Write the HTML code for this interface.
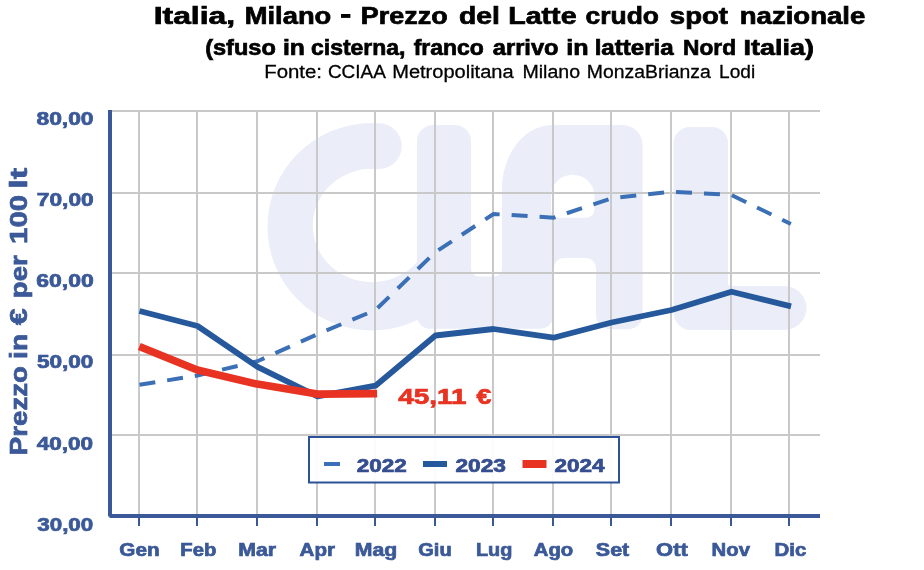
<!DOCTYPE html>
<html><head><meta charset="utf-8">
<style>
html,body{margin:0;padding:0;background:#fff;}
svg{display:block}
text{font-family:"Liberation Sans",sans-serif;}
.b{font-weight:bold}
</style></head><body>
<svg width="924" height="570" viewBox="0 0 924 570">
<rect width="924" height="570" fill="#fff"/>
<g fill="#ebeef9" stroke="none">
<clipPath id="cc"><path d="M255,110H372V226L441,275H471V345H255Z"/></clipPath>
<path clip-path="url(#cc)" fill-rule="evenodd" d="M267.5,226.7 a104.5,103.7 0 1 0 209,0 a104.5,103.7 0 1 0 -209,0 Z M312.8,225.5 a59.2,56.6 0 1 0 118.4,0 a59.2,56.6 0 1 0 -118.4,0 Z"/>
<path d="M371,123.3 H379 a22.8,22.8 0 0 1 0,45.6 H371 Z"/>
<path fill-rule="evenodd" d="M417,141 a16,16 0 0 1 16,-16 h22 a16,16 0 0 1 16,16 V268.5 a8,8 0 0 0 8,8 h15 a8,8 0 0 0 8,-8 V189 A50.5,64 0 0 1 552,125 H622.5 a20,20 0 0 1 20,20 V315.2 a14,14 0 0 1 -14,14 H610 a14,14 0 0 1 -14,-14 V268 a10,10 0 0 0 -10,-10 H563.8 a10,10 0 0 0 -10,10 V314.8 a14,14 0 0 1 -14,14 H430 a13,13 0 0 1 -13,-13 Z M551,196 a21.7,21.3 0 0 1 43.4,0 V209.7 a8,8 0 0 1 -8,8 H559 a8,8 0 0 1 -8,-8 Z"/>
<path d="M673.7,143 a16,16 0 0 1 16,-16 h22.3 a16,16 0 0 1 16,16 V283 a3,3 0 0 0 3,3 H784.5 a22,22 0 0 1 0,44 H690.7 a17,17 0 0 1 -17,-17 Z"/>
</g>
<g stroke="#c9c9c9" stroke-width="2" fill="none">
<path d="M112,111H820M112,193H820M112,273H820M112,355H820M112,435H820"/>
<path d="M139,112V514M197,112V514M257,112V514M317,112V514M375,112V514M435,112V514M493,112V514M553,112V514M611,112V514M671,112V514M731,112V514M789,112V514"/>
</g>
<g stroke="#3b5998" fill="none">
<path d="M110,110V516.5" stroke-width="4"/>
<path d="M109.5,516H820" stroke-width="4"/>
<path d="M139,518V526M197,518V526M257,518V526M317,518V526M375,518V526M435,518V526M493,518V526M553,518V526M611,518V526M671,518V526M731,518V526M789,518V526" stroke-width="2"/>
</g>
<polyline fill="none" stroke="#3b6fb6" stroke-width="4" stroke-dasharray="16 12" points="139.5,384.8 197.5,375.5 257.5,361.2 317.5,334.2 375.5,310 435.5,252 493.5,214 553.5,217.7 611.5,198.3 671.5,191.7 731.5,195 790.85,223.96"/>
<polyline fill="none" stroke="#26589c" stroke-width="5.8" stroke-linejoin="round" points="139.5,311 197.5,326 257.5,366.8 317.5,396.4 375.5,385.7 435.5,335.5 493.5,329 553.5,337.7 611.5,322.5 671.5,310 731.5,291.7 791.05,306.38"/>
<polyline fill="none" stroke="#e83323" stroke-width="7.6" stroke-linejoin="round" points="139.3,346.6 197.3,370 257.3,384.1 317.3,394.1 377.1,393.58"/>
<rect x="309" y="437" width="310" height="45.5" fill="#fff" fill-opacity="0.93" stroke="#2b5197" stroke-width="2"/>
<path d="M324,464H340" stroke="#3b6fb6" stroke-width="4"/>
<path d="M423,464H447" stroke="#26589c" stroke-width="6"/>
<path d="M522.5,464H546.5" stroke="#e83323" stroke-width="8"/>
<g opacity="0.999">
<rect x="341" y="14" width="9.4" height="3.9" fill="#000"/>
<text class="b" x="153.74" y="23.6" font-size="23.1" fill="#000" stroke="#000" stroke-width="0.7" textLength="81.26" lengthAdjust="spacingAndGlyphs">Italia,</text>
<text class="b" x="244.78" y="23.6" font-size="23.1" fill="#000" stroke="#000" stroke-width="0.7" textLength="86.52" lengthAdjust="spacingAndGlyphs">Milano</text>
<text class="b" x="360.88" y="23.6" font-size="23.1" fill="#000" stroke="#000" stroke-width="0.7" textLength="86.72" lengthAdjust="spacingAndGlyphs">Prezzo</text>
<text class="b" x="458.98" y="23.6" font-size="23.1" fill="#000" stroke="#000" stroke-width="0.7" textLength="40.83" lengthAdjust="spacingAndGlyphs">del</text>
<text class="b" x="508.2" y="23.6" font-size="23.1" fill="#000" stroke="#000" stroke-width="0.7" textLength="68.37" lengthAdjust="spacingAndGlyphs">Latte</text>
<text class="b" x="585.61" y="23.6" font-size="23.1" fill="#000" stroke="#000" stroke-width="0.7" textLength="73.38" lengthAdjust="spacingAndGlyphs">crudo</text>
<text class="b" x="669.88" y="23.6" font-size="23.1" fill="#000" stroke="#000" stroke-width="0.7" textLength="58.17" lengthAdjust="spacingAndGlyphs">spot</text>
<text class="b" x="739.79" y="23.6" font-size="23.1" fill="#000" stroke="#000" stroke-width="0.7" textLength="125.55" lengthAdjust="spacingAndGlyphs">nazionale</text>
<text class="b" x="205.19" y="55.3" font-size="21.4" fill="#000" stroke="#000" stroke-width="0.7" textLength="70.59" lengthAdjust="spacingAndGlyphs">(sfuso</text>
<text class="b" x="283.01" y="55.3" font-size="21.4" fill="#000" stroke="#000" stroke-width="0.7" textLength="21.95" lengthAdjust="spacingAndGlyphs">in</text>
<text class="b" x="311.09" y="55.3" font-size="21.4" fill="#000" stroke="#000" stroke-width="0.7" textLength="94.38" lengthAdjust="spacingAndGlyphs">cisterna,</text>
<text class="b" x="413.71" y="55.3" font-size="21.4" fill="#000" stroke="#000" stroke-width="0.7" textLength="70.19" lengthAdjust="spacingAndGlyphs">franco</text>
<text class="b" x="492.78" y="55.3" font-size="21.4" fill="#000" stroke="#000" stroke-width="0.7" textLength="65.83" lengthAdjust="spacingAndGlyphs">arrivo</text>
<text class="b" x="566.37" y="55.3" font-size="21.4" fill="#000" stroke="#000" stroke-width="0.7" textLength="22.32" lengthAdjust="spacingAndGlyphs">in</text>
<text class="b" x="594.66" y="55.3" font-size="21.4" fill="#000" stroke="#000" stroke-width="0.7" textLength="79.08" lengthAdjust="spacingAndGlyphs">latteria</text>
<text class="b" x="683.06" y="55.3" font-size="21.4" fill="#000" stroke="#000" stroke-width="0.7" textLength="52.98" lengthAdjust="spacingAndGlyphs">Nord</text>
<text class="b" x="743.56" y="55.3" font-size="21.4" fill="#000" stroke="#000" stroke-width="0.7" textLength="70.31" lengthAdjust="spacingAndGlyphs">Italia)</text>
<text x="264.22" y="77.7" font-size="18" fill="#000" stroke="#000" stroke-width="0.3" textLength="57.81" lengthAdjust="spacingAndGlyphs">Fonte:</text>
<text x="327.95" y="77.7" font-size="18" fill="#000" stroke="#000" stroke-width="0.3" textLength="57.92" lengthAdjust="spacingAndGlyphs">CCIAA</text>
<text x="392.19" y="77.7" font-size="18" fill="#000" stroke="#000" stroke-width="0.3" textLength="121.45" lengthAdjust="spacingAndGlyphs">Metropolitana</text>
<text x="522.51" y="77.7" font-size="18" fill="#000" stroke="#000" stroke-width="0.3" textLength="57.54" lengthAdjust="spacingAndGlyphs">Milano</text>
<text x="586.85" y="77.7" font-size="18" fill="#000" stroke="#000" stroke-width="0.3" textLength="123.96" lengthAdjust="spacingAndGlyphs">MonzaBrianza</text>
<text x="719.08" y="77.7" font-size="18" fill="#000" stroke="#000" stroke-width="0.3" textLength="36.11" lengthAdjust="spacingAndGlyphs">Lodi</text>
<text class="b" x="119.37" y="556.2" font-size="17.8" fill="#3b5998" stroke="#3b5998" stroke-width="0.7" textLength="40.27" lengthAdjust="spacingAndGlyphs">Gen</text>
<text class="b" x="180.33" y="556.2" font-size="17.8" fill="#3b5998" stroke="#3b5998" stroke-width="0.7" textLength="36.01" lengthAdjust="spacingAndGlyphs">Feb</text>
<text class="b" x="238.28" y="556.2" font-size="17.8" fill="#3b5998" stroke="#3b5998" stroke-width="0.7" textLength="37.91" lengthAdjust="spacingAndGlyphs">Mar</text>
<text class="b" x="299.61" y="556.2" font-size="17.8" fill="#3b5998" stroke="#3b5998" stroke-width="0.7" textLength="35.45" lengthAdjust="spacingAndGlyphs">Apr</text>
<text class="b" x="354.85" y="556.2" font-size="17.8" fill="#3b5998" stroke="#3b5998" stroke-width="0.7" textLength="42.49" lengthAdjust="spacingAndGlyphs">Mag</text>
<text class="b" x="418.29" y="556.2" font-size="17.8" fill="#3b5998" stroke="#3b5998" stroke-width="0.7" textLength="33.4" lengthAdjust="spacingAndGlyphs">Giu</text>
<text class="b" x="475.99" y="556.2" font-size="17.8" fill="#3b5998" stroke="#3b5998" stroke-width="0.7" textLength="36.38" lengthAdjust="spacingAndGlyphs">Lug</text>
<text class="b" x="533.81" y="556.2" font-size="17.8" fill="#3b5998" stroke="#3b5998" stroke-width="0.7" textLength="39.49" lengthAdjust="spacingAndGlyphs">Ago</text>
<text class="b" x="595.89" y="556.2" font-size="17.8" fill="#3b5998" stroke="#3b5998" stroke-width="0.7" textLength="33.34" lengthAdjust="spacingAndGlyphs">Set</text>
<text class="b" x="656.14" y="556.2" font-size="17.8" fill="#3b5998" stroke="#3b5998" stroke-width="0.7" textLength="31.59" lengthAdjust="spacingAndGlyphs">Ott</text>
<text class="b" x="711.63" y="556.2" font-size="17.8" fill="#3b5998" stroke="#3b5998" stroke-width="0.7" textLength="38.31" lengthAdjust="spacingAndGlyphs">Nov</text>
<text class="b" x="774.52" y="556.2" font-size="17.8" fill="#3b5998" stroke="#3b5998" stroke-width="0.7" textLength="31.74" lengthAdjust="spacingAndGlyphs">Dic</text>
<text class="b" x="36.49" y="124.6" font-size="17.5" fill="#3b5998" stroke="#3b5998" stroke-width="0.7" textLength="57.08" lengthAdjust="spacingAndGlyphs">80,00</text>
<text class="b" x="36.83" y="205.9" font-size="17.5" fill="#3b5998" stroke="#3b5998" stroke-width="0.7" textLength="56.8" lengthAdjust="spacingAndGlyphs">70,00</text>
<text class="b" x="36.28" y="287" font-size="17.5" fill="#3b5998" stroke="#3b5998" stroke-width="0.7" textLength="57.41" lengthAdjust="spacingAndGlyphs">60,00</text>
<text class="b" x="36.96" y="367.8" font-size="17.5" fill="#3b5998" stroke="#3b5998" stroke-width="0.7" textLength="56.48" lengthAdjust="spacingAndGlyphs">50,00</text>
<text class="b" x="36.79" y="449.5" font-size="17.5" fill="#3b5998" stroke="#3b5998" stroke-width="0.7" textLength="56.29" lengthAdjust="spacingAndGlyphs">40,00</text>
<text class="b" x="37.27" y="530.5" font-size="17.5" fill="#3b5998" stroke="#3b5998" stroke-width="0.7" textLength="56" lengthAdjust="spacingAndGlyphs">30,00</text>
<text class="b" x="356.79" y="472" font-size="18" fill="#354e90" stroke="#354e90" stroke-width="0.7" textLength="49.98" lengthAdjust="spacingAndGlyphs">2022</text>
<text class="b" x="455.42" y="472" font-size="18" fill="#354e90" stroke="#354e90" stroke-width="0.7" textLength="50.54" lengthAdjust="spacingAndGlyphs">2023</text>
<text class="b" x="554.42" y="472" font-size="18" fill="#354e90" stroke="#354e90" stroke-width="0.7" textLength="50.05" lengthAdjust="spacingAndGlyphs">2024</text>
<text class="b" x="398.3" y="403.5" font-size="22.6" fill="#e83323" stroke="#e83323" stroke-width="0.7" textLength="68.33" lengthAdjust="spacingAndGlyphs">45,11</text>
<text class="b" x="476.51" y="403.5" font-size="22.6" fill="#e83323" stroke="#e83323" stroke-width="0.7" textLength="14.74" lengthAdjust="spacingAndGlyphs">€</text>
<text class="b" transform="translate(27.4,455.13) rotate(-90)" font-size="24.4" fill="#3b5998" stroke="#3b5998" stroke-width="0.7" textLength="89.1" lengthAdjust="spacingAndGlyphs">Prezzo</text>
<text class="b" transform="translate(27.4,358.89) rotate(-90)" font-size="24.4" fill="#3b5998" stroke="#3b5998" stroke-width="0.7" textLength="24.92" lengthAdjust="spacingAndGlyphs">in</text>
<text class="b" transform="translate(27.4,325.1) rotate(-90)" font-size="24.4" fill="#3b5998" stroke="#3b5998" stroke-width="0.7" textLength="16.55" lengthAdjust="spacingAndGlyphs">€</text>
<text class="b" transform="translate(27.4,298.16) rotate(-90)" font-size="24.4" fill="#3b5998" stroke="#3b5998" stroke-width="0.7" textLength="42.79" lengthAdjust="spacingAndGlyphs">per</text>
<text class="b" transform="translate(27.4,244.01) rotate(-90)" font-size="24.4" fill="#3b5998" stroke="#3b5998" stroke-width="0.7" textLength="49.21" lengthAdjust="spacingAndGlyphs">100</text>
<text class="b" transform="translate(27.4,188.64) rotate(-90)" font-size="24.4" fill="#3b5998" stroke="#3b5998" stroke-width="0.7" textLength="20.89" lengthAdjust="spacingAndGlyphs">lt</text>
</g>
</svg>
</body></html>
